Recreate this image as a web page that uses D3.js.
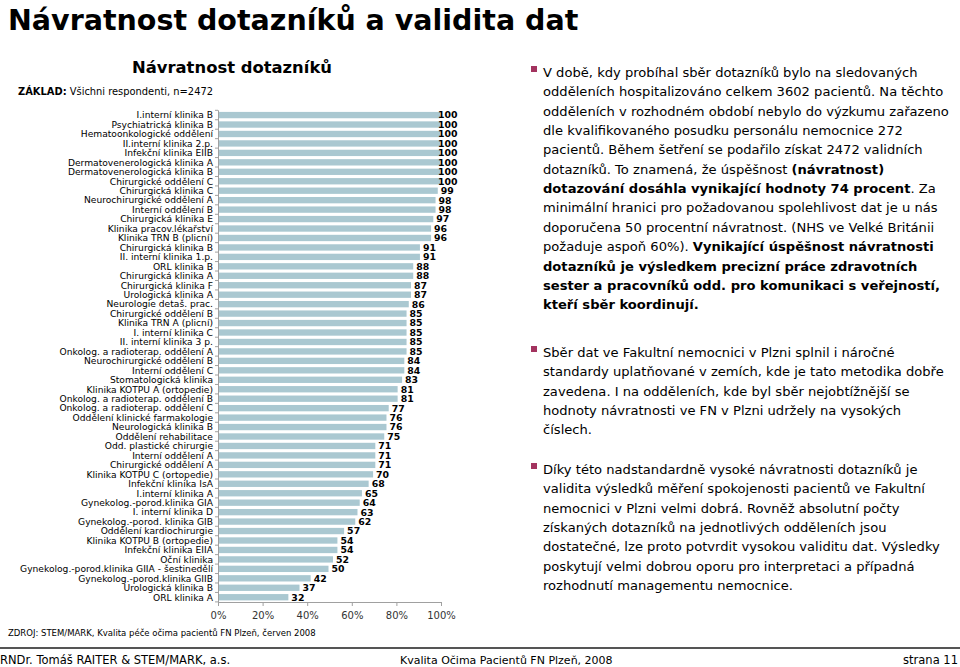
<!DOCTYPE html>
<html>
<head>
  <meta charset="UTF-8">
  <style>
    body { margin: 0; background: #fff; }
    svg { font-family: "DejaVu Sans", Verdana, sans-serif; }
  </style>
  <title>Návratnost dotazníků</title>
</head>
<body>
<svg></svg>
<script src="https://d3js.org/d3.v7.min.js"></script>
<script>

let width = 960, height = 667;

// oddělení a návratnost v %
let departments = [
  "I.interní klinika B", "Psychiatrická klinika B", "Hematoonkologické oddělení",
  "II.interní klinika 2.p.", "Infekční klinika EIIB", "Dermatovenerologická klinika A",
  "Dermatovenerologická klinika B", "Chirurgické oddělení C", "Chirurgická klinika C",
  "Neurochirurgické oddělení A", "Interní oddělení B", "Chirurgická klinika E",
  "Klinika pracov.lékařství", "Klinika TRN B (plicní)", "Chirurgická klinika B",
  "II. interní klinika 1.p.", "ORL klinika B", "Chirurgická klinika A",
  "Chirurgická klinika F", "Urologická klinika A", "Neurologie detaš. prac.",
  "Chirurgické oddělení B", "Klinika TRN A (plicní)", "I. interní klinika C",
  "II. interní klinika 3 p.", "Onkolog. a radioterap. oddělení A", "Neurochirurgické oddělení B",
  "Interní oddělení C", "Stomatologická klinika", "Klinika KOTPU A (ortopedie)",
  "Onkolog. a radioterap. oddělení B", "Onkolog. a radioterap. oddělení C", "Oddělení klinické farmakologie",
  "Neurologická klinika B", "Oddělení rehabilitace", "Odd. plastické chirurgie",
  "Interní oddělení A", "Chirurgické oddělení A", "Klinika KOTPU C (ortopedie)",
  "Infekční klinika IsA", "I.interní klinika A", "Gynekolog.-porod.klinika GIA",
  "I. interní klinika D", "Gynekolog.-porod. klinika GIB", "Oddělení kardiochirurgie",
  "Klinika KOTPU B (ortopedie)", "Infekční klinika EIIA", "Oční klinika",
  "Gynekolog.-porod.klinika GIIA - šestinedělí", "Gynekolog.-porod.klinika GIIB", "Urologická klinika B",
  "ORL klinika A"
];

let returnRate = [
  100, 100, 100, 100, 100, 100, 100, 100, 99, 98, 98, 97, 96, 96,
  91, 91, 88, 88, 87, 87, 86, 85, 85, 85, 85, 85, 84, 84, 83, 81, 81,
  77, 76, 76, 75, 71, 71, 71, 70, 68, 65, 64, 63, 62, 57, 54, 54, 52, 50,
  42, 37, 32
];

let xTicks = [0, 20, 40, 60, 80, 100];

// texty vpravo: [text, tučně]
let paragraphs = [
  [
    [["V době, kdy probíhal sběr dotazníků bylo na sledovaných", 0]],
    [["odděleních hospitalizováno celkem 3602 pacientů. Na těchto", 0]],
    [["odděleních v rozhodném období nebylo do výzkumu zařazeno", 0]],
    [["dle kvalifikovaného posudku personálu nemocnice 272", 0]],
    [["pacientů. Během šetření se podařilo získat 2472 validních", 0]],
    [["dotazníků. To znamená, že úspěšnost ", 0], ["(návratnost)", 1]],
    [["dotazování dosáhla vynikající hodnoty 74 procent", 1], [". Za", 0]],
    [["minimální hranici pro požadovanou spolehlivost dat je u nás", 0]],
    [["doporučena 50 procentní návratnost. (NHS ve Velké Británii", 0]],
    [["požaduje aspoň 60%). ", 0], ["Vynikající úspěšnost návratnosti", 1]],
    [["dotazníků je výsledkem precizní práce zdravotních", 1]],
    [["sester a pracovníků odd. pro komunikaci s veřejností,", 1]],
    [["kteří sběr koordinují.", 1]]
  ],
  [
    [["Sběr dat ve Fakultní nemocnici v Plzni splnil i náročné", 0]],
    [["standardy uplatňované v zemích, kde je tato metodika dobře", 0]],
    [["zavedena. I na odděleních, kde byl sběr nejobtížnější se", 0]],
    [["hodnoty návratnosti ve FN v Plzni udržely na vysokých", 0]],
    [["číslech.", 0]]
  ],
  [
    [["Díky této nadstandardně vysoké návratnosti dotazníků je", 0]],
    [["validita výsledků měření spokojenosti pacientů ve Fakultní", 0]],
    [["nemocnici v Plzni velmi dobrá. Rovněž absolutní počty", 0]],
    [["získaných dotazníků na jednotlivých odděleních jsou", 0]],
    [["dostatečné, lze proto potvrdit vysokou validitu dat. Výsledky", 0]],
    [["poskytují velmi dobrou oporu pro interpretaci a případná", 0]],
    [["rozhodnutí managementu nemocnice.", 0]]
  ]
];
let paraTop = [77, 357, 474];

let svg = d3.select("svg")
    .attr("width", width)
    .attr("height", height);

// nadpis
svg.append("text")
    .attr("x", 8).attr("y", 30)
    .attr("font-size", 28.5).attr("font-weight", "bold")
    .text("Návratnost dotazníků a validita dat");

svg.append("text")
    .attr("x", 232).attr("y", 73)
    .attr("text-anchor", "middle")
    .attr("font-size", 16.4).attr("font-weight", "bold")
    .text("Návratnost dotazníků");

let base = svg.append("text")
    .attr("x", 213).attr("y", 95)
    .attr("text-anchor", "end")
    .attr("font-size", 9.9);
base.append("tspan").attr("font-weight", "bold").text("ZÁKLAD:");
base.append("tspan").text(" Všichni respondenti,  n=2472");

// graf
let x = d3.scaleLinear().domain([0, 100]).range([218, 441]);
let y = d3.scaleBand().domain(departments).range([110.3, 602]).paddingInner(0.33).paddingOuter(0.17);

svg.append("g")
    .selectAll("rect")
    .data(departments)
    .enter()
    .append("rect")
    .attr("x", x(0) + 1)
    .attr("y", d => y(d))
    .attr("width", (d, i) => x(returnRate[i]) - x(0) - 2)
    .attr("height", y.bandwidth())
    .attr("fill", "#aac8d1");

svg.append("g")
    .selectAll("text")
    .data(departments)
    .enter()
    .append("text")
    .attr("x", (d, i) => x(returnRate[i]) + (returnRate[i] == 100 ? -3 : 2))
    .attr("y", d => y(d) + y.bandwidth() / 2)
    .attr("dy", "0.36em")
    .attr("font-size", 9.4)
    .attr("font-weight", "bold")
    .text((d, i) => returnRate[i]);

// kategorie
svg.append("g")
    .selectAll("text")
    .data(departments)
    .enter()
    .append("text")
    .attr("x", 213)
    .attr("y", d => y(d) + y.bandwidth() / 2)
    .attr("dy", "0.36em")
    .attr("text-anchor", "end")
    .attr("font-size", 9.15)
    .text(d => d);

// osa y s čárkami mezi kategoriemi
let step = y.step();
let yAxis = svg.append("g").attr("stroke", "#a0a0a0").attr("stroke-width", 1);
yAxis.append("line")
    .attr("x1", x(0) + 0.5).attr("x2", x(0) + 0.5)
    .attr("y1", 110.3).attr("y2", 602);
yAxis.selectAll("line.t")
    .data(d3.range(departments.length + 1))
    .enter()
    .append("line")
    .attr("class", "t")
    .attr("x1", x(0) - 3).attr("x2", x(0))
    .attr("y1", i => 110.3 + i * step)
    .attr("y2", i => 110.3 + i * step);

// osa x
let xAxis = svg.append("g")
    .attr("transform", "translate(0,602)")
    .call(d3.axisBottom(x).tickValues(xTicks).tickFormat(d => d + "%").tickSize(4).tickPadding(6));
xAxis.select(".domain").attr("stroke", "#a0a0a0");
xAxis.selectAll(".tick line").attr("stroke", "#a0a0a0");
xAxis.selectAll("text").attr("font-size", 10).attr("fill", "#333")
    .attr("font-family", "DejaVu Sans, Verdana, sans-serif");

svg.append("text")
    .attr("x", 8).attr("y", 636)
    .attr("font-size", 8.5)
    .text("ZDROJ: STEM/MARK, Kvalita péče očima pacientů FN Plzeň, červen 2008");

// odrážky vpravo
let lh = 19.35;
paragraphs.forEach((p, pi) => {
    svg.append("rect")
        .attr("x", 531).attr("y", paraTop[pi] - 11)
        .attr("width", 6).attr("height", 6)
        .attr("fill", "#a3335f");
    p.forEach((line, li) => {
        let t = svg.append("text")
            .attr("x", 543)
            .attr("y", paraTop[pi] + li * lh)
            .attr("font-size", 13.1);
        line.forEach(seg => {
            t.append("tspan")
                .attr("font-weight", seg[1] ? "bold" : "normal")
                .text(seg[0]);
        });
    });
});

// patička
svg.append("line")
    .attr("x1", 0).attr("x2", width)
    .attr("y1", 648).attr("y2", 648)
    .attr("stroke", "#555").attr("stroke-width", 2);

svg.append("text").attr("x", 0).attr("y", 664).attr("font-size", 11.5)
    .text("RNDr. Tomáš RAITER & STEM/MARK, a.s.");
svg.append("text").attr("x", 400).attr("y", 664).attr("font-size", 11)
    .text("Kvalita Očima Pacientů FN Plzeň, 2008");
svg.append("text").attr("x", 958).attr("y", 664).attr("font-size", 11.5)
    .attr("text-anchor", "end")
    .text("strana 11");

</script>
</body>
</html>
